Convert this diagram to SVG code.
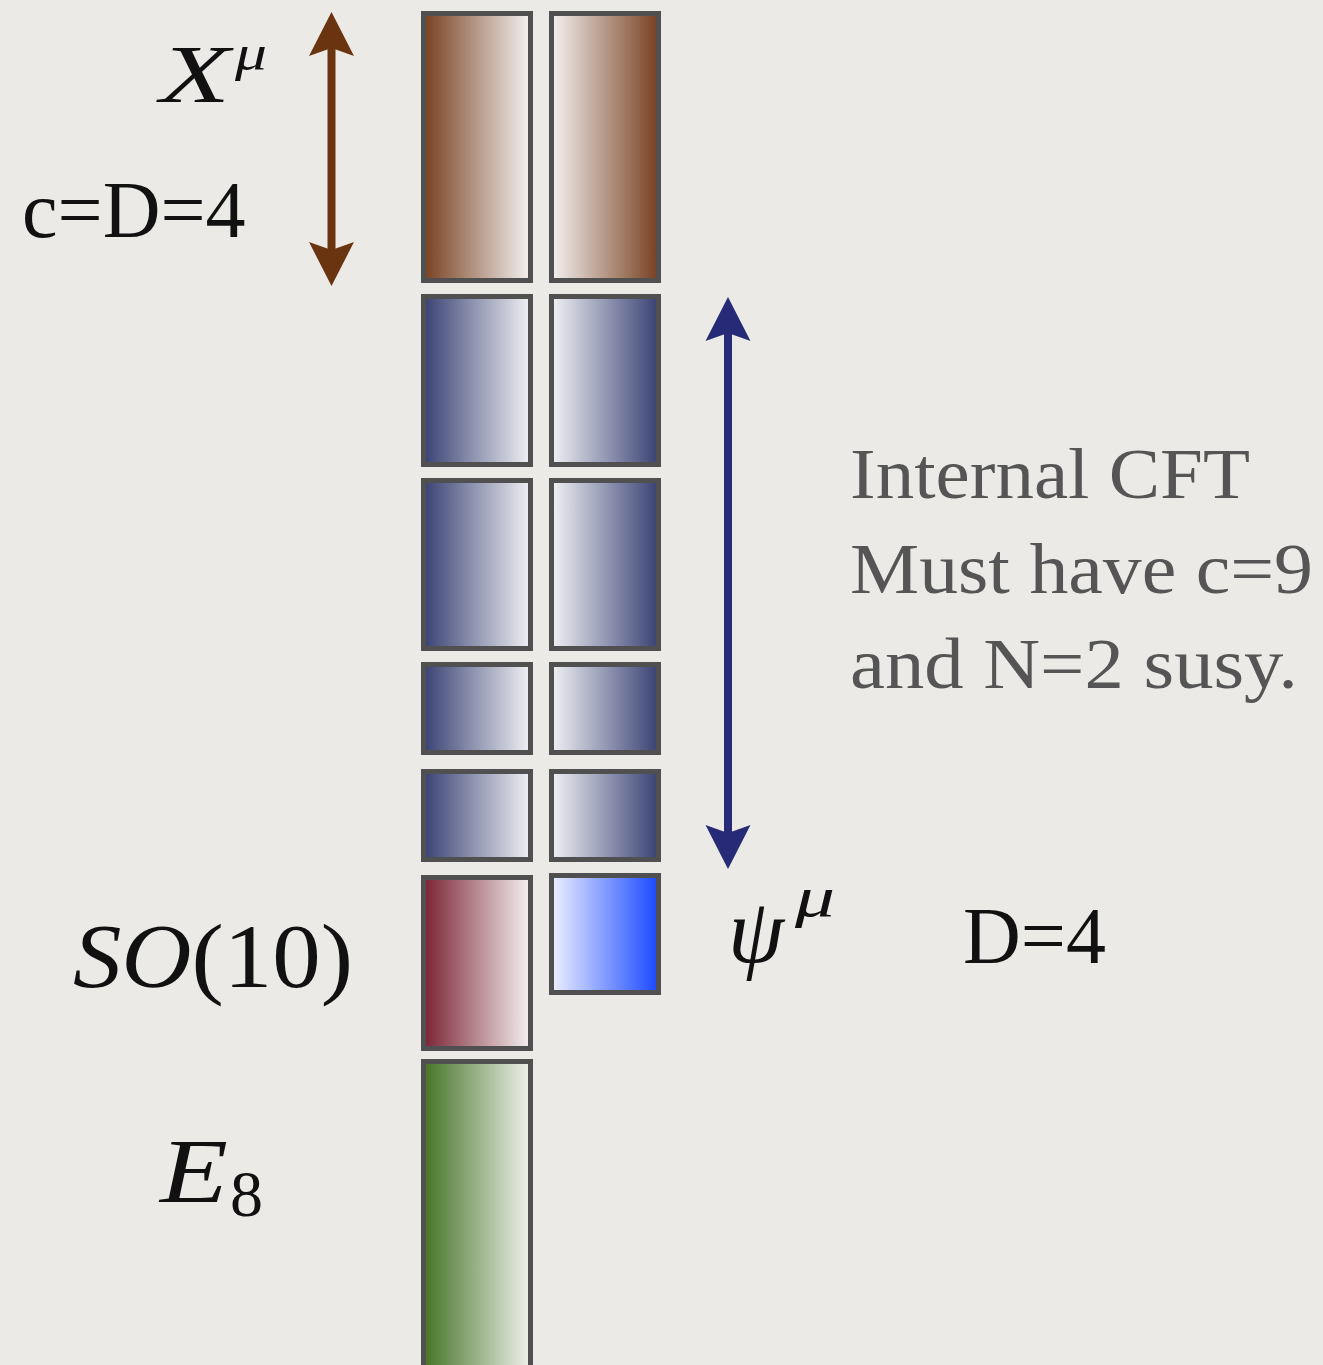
<svg xmlns="http://www.w3.org/2000/svg" width="1323" height="1365" viewBox="0 0 1323 1365">
<style>
.box{stroke:#505050;stroke-width:5}
.math{font-family:"Liberation Serif","Times New Roman",serif;fill:#111}
.it{font-style:italic}
.note{font-family:"Liberation Serif","Times New Roman",serif;fill:#555;font-size:72px}
</style>
<defs>
<linearGradient id="gBrownL" x1="0" y1="0" x2="1" y2="0"><stop offset="0" stop-color="#784020"/><stop offset="1" stop-color="#f4f2f1"/></linearGradient>
<linearGradient id="gBrownR" x1="1" y1="0" x2="0" y2="0"><stop offset="0" stop-color="#784020"/><stop offset="1" stop-color="#f4f2f1"/></linearGradient>
<linearGradient id="gBlueL" x1="0" y1="0" x2="1" y2="0"><stop offset="0" stop-color="#384173"/><stop offset="1" stop-color="#f1f1f4"/></linearGradient>
<linearGradient id="gBlueR" x1="1" y1="0" x2="0" y2="0"><stop offset="0" stop-color="#384173"/><stop offset="1" stop-color="#f1f1f4"/></linearGradient>
<linearGradient id="gRed" x1="0" y1="0" x2="1" y2="0"><stop offset="0" stop-color="#7a2232"/><stop offset="1" stop-color="#f5f1f1"/></linearGradient>
<linearGradient id="gBright" x1="0" y1="0" x2="1" y2="0"><stop offset="0" stop-color="#eef0ff"/><stop offset="1" stop-color="#1848ff"/></linearGradient>
<linearGradient id="gGreen" x1="0" y1="0" x2="1" y2="0"><stop offset="0" stop-color="#437325"/><stop offset="1" stop-color="#eff1ec"/></linearGradient>
<marker id="headBrown" markerUnits="userSpaceOnUse" markerWidth="50" markerHeight="50" viewBox="-10 -25 50 50" refX="0" refY="0" orient="auto-start-reverse">
<path d="M36 0 L-8 -22.5 L0 0 L-8 22.5 Z" fill="#6b3410"/>
</marker>
<marker id="headBlue" markerUnits="userSpaceOnUse" markerWidth="50" markerHeight="50" viewBox="-10 -25 50 50" refX="0" refY="0" orient="auto-start-reverse">
<path d="M36 0 L-8 -22.5 L0 0 L-8 22.5 Z" fill="#272b77"/>
</marker>
</defs>
<rect width="1323" height="1365" fill="#ebeae6"/>

<g id="connectors">
<line x1="331.5" y1="48" x2="331.5" y2="250" stroke="#6b3410" stroke-width="8" marker-start="url(#headBrown)" marker-end="url(#headBrown)"/>
<line x1="728" y1="333" x2="728" y2="833" stroke="#272b77" stroke-width="8" marker-start="url(#headBlue)" marker-end="url(#headBlue)"/>
</g>

<g id="box-x-left"><rect class="box" x="423.5" y="13.5" width="107" height="267" fill="url(#gBrownL)"/></g>
<g id="box-x-right"><rect class="box" x="551.5" y="13.5" width="107" height="267" fill="url(#gBrownR)"/></g>
<g id="box-cft1-left"><rect class="box" x="423.5" y="296.5" width="107" height="168" fill="url(#gBlueL)"/></g>
<g id="box-cft1-right"><rect class="box" x="551.5" y="296.5" width="107" height="168" fill="url(#gBlueR)"/></g>
<g id="box-cft2-left"><rect class="box" x="423.5" y="480.5" width="107" height="168" fill="url(#gBlueL)"/></g>
<g id="box-cft2-right"><rect class="box" x="551.5" y="480.5" width="107" height="168" fill="url(#gBlueR)"/></g>
<g id="box-cft3-left"><rect class="box" x="423.5" y="664.5" width="107" height="88" fill="url(#gBlueL)"/></g>
<g id="box-cft3-right"><rect class="box" x="551.5" y="664.5" width="107" height="88" fill="url(#gBlueR)"/></g>
<g id="box-cft4-left"><rect class="box" x="423.5" y="771.5" width="107" height="88" fill="url(#gBlueL)"/></g>
<g id="box-cft4-right"><rect class="box" x="551.5" y="771.5" width="107" height="88" fill="url(#gBlueR)"/></g>
<g id="box-so10"><rect class="box" x="423.5" y="877.5" width="107" height="171" fill="url(#gRed)"/></g>
<g id="box-psi"><rect class="box" x="551.5" y="875.5" width="107" height="117" fill="url(#gBright)"/></g>
<g id="box-e8"><rect class="box" x="423.5" y="1061.5" width="107" height="310" fill="url(#gGreen)"/></g>

<g id="labels">
<text class="math it" x="160" y="102" font-size="82" textLength="70" lengthAdjust="spacingAndGlyphs">X</text>
<text class="math it" x="235" y="70" font-size="50" textLength="32" lengthAdjust="spacingAndGlyphs">μ</text>
<text class="math" x="22" y="237" font-size="80">c=D=4</text>
<text class="math" x="73" y="987" font-size="92" textLength="280" lengthAdjust="spacingAndGlyphs"><tspan font-style="italic">SO</tspan>(10)</text>
<text class="math it" x="160" y="1202" font-size="92" textLength="68" lengthAdjust="spacingAndGlyphs">E</text>
<text class="math" x="230" y="1216" font-size="66">8</text>
<text class="math it" x="728" y="962" font-size="92" textLength="56" lengthAdjust="spacingAndGlyphs">ψ</text>
<text class="math it" x="795" y="916" font-size="58" textLength="40" lengthAdjust="spacingAndGlyphs">μ</text>
<text class="math" x="963" y="963" font-size="80">D=4</text>
<text class="note" x="850" y="498" textLength="400" lengthAdjust="spacingAndGlyphs">Internal CFT</text>
<text class="note" x="850" y="593" textLength="463" lengthAdjust="spacingAndGlyphs">Must have c=9</text>
<text class="note" x="850" y="688" textLength="448" lengthAdjust="spacingAndGlyphs">and N=2 susy.</text>
</g>
</svg>
